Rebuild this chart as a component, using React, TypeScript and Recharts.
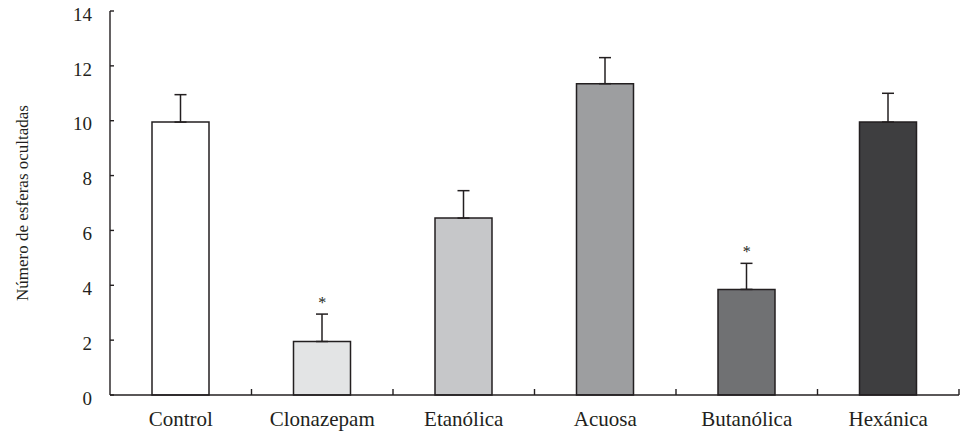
import { ComposedChart, Bar, Cell, ErrorBar, Scatter, XAxis, YAxis } from 'recharts';

const categories = ['Control', 'Clonazepam', 'Etanólica', 'Acuosa', 'Butanólica', 'Hexánica'];
const means = [9.95, 1.95, 6.45, 11.35, 3.85, 9.95];
const errors = [1.0, 1.0, 1.0, 0.95, 0.95, 1.05];
const significant = [false, true, false, false, true, false];
const fills = ['#ffffff', '#e3e4e5', '#c6c7c9', '#9d9ea0', '#707173', '#3e3e40'];
const yTicks = [0, 2, 4, 6, 8, 10, 12, 14];
const yLabel = 'Número de esferas ocultadas';

const ink = '#231f20';
const font = '"Liberation Serif", "DejaVu Serif", serif';

// categories sit at the middle of unit slots on a numeric axis; slot edges get a small tick
const labelTicks = categories.map((_, i) => i + 0.5);
const edgeTicks = categories.map((_, i) => i + 1);
const xTicks = [...labelTicks, ...edgeTicks].sort((a, b) => a - b);

const data = categories.map((name, i) => ({
  name,
  pos: labelTicks[i],
  mean: means[i],
  err: [0, errors[i]],
  star: significant[i] ? means[i] + errors[i] : null,
}));

const CategoryTick = (props: any) => {
  const { x, y, payload } = props;
  const v = Number(payload.value);
  if (Number.isInteger(v)) {
    return <line x1={x} x2={x} y1={y} y2={y - 6} stroke={ink} strokeWidth={1.4} />;
  }
  return (
    <text x={x} y={y + 31} textAnchor="middle" fill={ink} fontSize={21} fontFamily={font}>
      {categories[Math.floor(v)]}
    </text>
  );
};

const StarShape = (props: any) => {
  const { cx, cy, payload } = props;
  if (payload == null || payload.star == null || cx == null || cy == null) return null;
  return (
    <text x={cx} y={cy - 6} textAnchor="middle" fill={ink} stroke="none" fontSize={16} fontFamily={font}>
      *
    </text>
  );
};

const App = () => {
  return (
    <div style={{ position: 'absolute', left: 0, top: 0, background: '#fff' }}>
      <ComposedChart
        width={964}
        height={433}
        data={data}
        margin={{ top: 11, right: 5, bottom: 0, left: 0 }}
      >
        <XAxis
          dataKey="pos"
          type="number"
          domain={[0, categories.length]}
          ticks={xTicks}
          interval={0}
          height={38}
          axisLine={{ stroke: ink, strokeWidth: 1.4 }}
          tickLine={false}
          tickSize={0}
          tickMargin={0}
          tick={<CategoryTick />}
        />
        <YAxis
          width={110}
          domain={[0, 14]}
          ticks={yTicks}
          interval={0}
          axisLine={{ stroke: ink, strokeWidth: 1.4 }}
          tickLine={{ stroke: ink, strokeWidth: 1.4 }}
          tickSize={-4}
          tickMargin={22}
          tick={{ fill: ink, fontSize: 19, fontFamily: font, dy: 3 }}
          label={{
            value: yLabel,
            angle: -90,
            position: 'center',
            dx: -33,
            fill: ink,
            fontSize: 17,
            fontFamily: font,
          }}
        />
        <Bar dataKey="mean" barSize={57} stroke={ink} strokeWidth={1.5} isAnimationActive={false}>
          {data.map((d, i) => (
            <Cell key={d.name} fill={fills[i]} />
          ))}
          <ErrorBar dataKey="err" direction="y" width={6} stroke={ink} strokeWidth={1.5} />
        </Bar>
        <Scatter dataKey="star" fill={ink} shape={<StarShape />} isAnimationActive={false} />
      </ComposedChart>
    </div>
  );
};

export default App;
